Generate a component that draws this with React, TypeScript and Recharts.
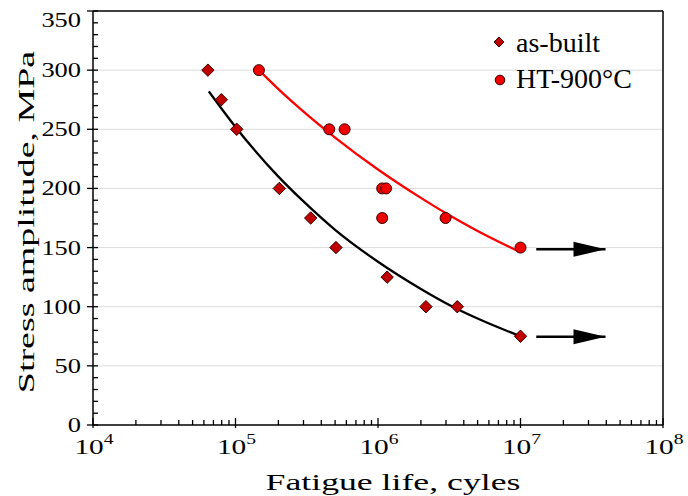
import React from "react";
import {
  ComposedChart,
  XAxis,
  YAxis,
  Scatter,
  Line,
  ReferenceLine,
  CartesianGrid,
} from "recharts";

// ---- data ----
const asBuiltN = [6.4e4, 7.95e4, 1.02e5, 2.03e5, 3.37e5, 5.07e5, 1.16e6, 2.17e6, 3.6e6, 1e7];
const asBuiltS = [300, 275, 250, 200, 175, 150, 125, 100, 100, 75];

const htN = [1.46e5, 4.55e5, 5.83e5, 1.07e6, 1.14e6, 1.07e6, 2.98e6, 1e7];
const htS = [300, 250, 250, 200, 200, 175, 175, 150];

const asBuiltFitN = [6.5e4, 1e5, 2e5, 3e5, 5e5, 1e6, 2e6, 3e6, 5e6, 1e7];
const asBuiltFitS = [282, 252, 210, 189, 165, 138, 115, 103, 90, 75];

const htFitN = [1.46e5, 2e5, 3e5, 5e5, 1e6, 2e6, 3e6, 5e6, 1e7];
const htFitS = [300, 284, 265, 243, 216, 192, 179, 164, 146];

const arrowN = [1.29e7, 3.95e7];
const arrowHtS = [148.5, 148.5];
const arrowAsBuiltS = [74.6, 74.6];

const xMajorTicks = [1e4, 1e5, 1e6, 1e7, 1e8];
const xMinorMultipliers = [2, 3, 4, 5, 6, 7, 8, 9];
const yMajorTicks = [0, 50, 100, 150, 200, 250, 300, 350];
const yMinorStep = 10;
const gridValues = [50, 100, 150, 200, 250, 300];

const seriesNames = ["as-built", "HT-900°C"];
const xTitle = "Fatigue life, cyles";
const yTitle = "Stress amplitude, MPa";

// ---- derived tables ----
const zip = (ns: number[], ss: number[]) => ns.map((n, i) => ({ n, s: ss[i] }));
const asBuiltData = zip(asBuiltN, asBuiltS);
const htData = zip(htN, htS);
const asBuiltFit = zip(asBuiltFitN, asBuiltFitS);
const htFit = zip(htFitN, htFitS);
const arrowHt = zip(arrowN, arrowHtS);
const arrowAsBuilt = zip(arrowN, arrowAsBuiltS);

const xTicks: number[] = [];
xMajorTicks.forEach((m, i) => {
  xTicks.push(m);
  if (i < xMajorTicks.length - 1) xMinorMultipliers.forEach((k) => xTicks.push(m * k));
});
const yTicks: number[] = [];
for (let v = 0; v <= 350; v += yMinorStep) yTicks.push(v);

const FONT = "Liberation Serif, Times New Roman, serif";
const DIAMOND_FILL = "#c00000";
const DIAMOND_STROKE = "#3a0000";
const CIRCLE_FILL = "#ee0000";
const CIRCLE_STROKE = "#3a0000";

const SText = ({ x, y, sx = 1, rotate = 0, anchor = "start", size, children }: any) => (
  <g transform={`translate(${x},${y}) rotate(${rotate}) scale(${sx},1)`}>
    <text x={0} y={0} textAnchor={anchor} fontSize={size} fontFamily={FONT} fill="#000">
      {children}
    </text>
  </g>
);

const XTick = (props: any) => {
  const { x, y, payload } = props;
  const v = payload.value;
  const major = xMajorTicks.some((m) => Math.abs(m - v) / m < 1e-6);
  if (!major) {
    return <line x1={x} x2={x} y1={y} y2={y - 5} stroke="#000" strokeWidth={1.3} />;
  }
  const exp = Math.round(Math.log10(v));
  return (
    <g>
      <line x1={x} x2={x} y1={y - 7} y2={y + 3} stroke="#000" strokeWidth={1.3} />
      <SText x={x + 1} y={y + 29} sx={1.4} anchor="middle" size={21}>
        10
        <tspan fontSize={14} dy={-10}>
          {exp}
        </tspan>
      </SText>
    </g>
  );
};

const YTick = (props: any) => {
  const { x, y, payload } = props;
  const v = payload.value;
  const major = yMajorTicks.includes(v);
  if (!major) {
    return <line x1={x} x2={x + 5} y1={y} y2={y} stroke="#000" strokeWidth={1.3} />;
  }
  const baseline = Math.max(y + 7, 27);
  return (
    <g>
      <line x1={x - 6} x2={x + 5} y1={y} y2={y} stroke="#000" strokeWidth={1.3} />
      <SText x={x - 12} y={baseline} sx={1.2} anchor="end" size={22}>
        {v}
      </SText>
    </g>
  );
};

const Diamond = (props: any) => {
  const { cx, cy } = props;
  const r = 6.2;
  return (
    <polygon
      points={`${cx},${cy - r} ${cx + r},${cy} ${cx},${cy + r} ${cx - r},${cy}`}
      fill={DIAMOND_FILL}
      stroke={DIAMOND_STROKE}
      strokeWidth={1}
    />
  );
};

const Circle = (props: any) => {
  const { cx, cy } = props;
  return <circle cx={cx} cy={cy} r={5.5} fill={CIRCLE_FILL} stroke={CIRCLE_STROKE} strokeWidth={1} />;
};

const ArrowHead = (props: any) => {
  const { cx, cy, index } = props;
  if (index !== 1) return <g key={`ah-${index}`} />;
  return (
    <polygon
      key={`ah-${index}`}
      points={`${cx},${cy} ${cx - 32},${cy - 7.5} ${cx - 32},${cy + 7.5}`}
      fill="#000"
    />
  );
};

export default function App() {
  return (
    <div style={{ position: "absolute", left: 0, top: 0, width: 688, height: 496, background: "#fff" }}>
      <ComposedChart width={688} height={496} margin={{ top: 11, right: 25, left: 0, bottom: 0 }}>
        <CartesianGrid
          vertical={false}
          horizontal={true}
          horizontalValues={gridValues}
          stroke="#dcdcdc"
          strokeWidth={1}
        />
        <XAxis
          dataKey="n"
          type="number"
          scale="log"
          domain={[1e4, 1e8]}
          allowDataOverflow
          ticks={xTicks}
          interval={0}
          tick={<XTick />}
          tickLine={false}
          tickSize={0}
          tickMargin={0}
          height={71}
          axisLine={{ stroke: "#000", strokeWidth: 1.5 }}
        />
        <YAxis
          dataKey="s"
          type="number"
          domain={[0, 350]}
          allowDataOverflow
          ticks={yTicks}
          interval={0}
          tick={<YTick />}
          tickLine={false}
          tickSize={0}
          tickMargin={0}
          width={93}
          axisLine={{ stroke: "#000", strokeWidth: 1.5 }}
        />
        <ReferenceLine y={350} stroke="#000" strokeWidth={1.5} />
        <ReferenceLine x={1e8} stroke="#000" strokeWidth={1.5} />
        <Line
          data={asBuiltFit}
          dataKey="s"
          type="monotone"
          stroke="#000"
          strokeWidth={2.3}
          dot={false}
          legendType="none"
          isAnimationActive={false}
        />
        <Line
          data={htFit}
          dataKey="s"
          type="monotone"
          stroke="#ff0000"
          strokeWidth={2.3}
          dot={false}
          legendType="none"
          isAnimationActive={false}
        />
        <Line
          data={arrowHt}
          dataKey="s"
          stroke="#000"
          strokeWidth={2.5}
          dot={ArrowHead}
          legendType="none"
          isAnimationActive={false}
        />
        <Line
          data={arrowAsBuilt}
          dataKey="s"
          stroke="#000"
          strokeWidth={2.5}
          dot={ArrowHead}
          legendType="none"
          isAnimationActive={false}
        />
        <Scatter name={seriesNames[0]} data={asBuiltData} shape={Diamond} isAnimationActive={false} />
        <Scatter name={seriesNames[1]} data={htData} shape={Circle} isAnimationActive={false} />
      </ComposedChart>
      <svg
        width={688}
        height={496}
        style={{ position: "absolute", left: 0, top: 0, pointerEvents: "none" }}
      >
        <SText x={34} y={222} rotate={-90} sx={1.65} anchor="middle" size={23}>
          {yTitle}
        </SText>
        <SText x={393} y={490} sx={1.52} anchor="middle" size={23.5}>
          {xTitle}
        </SText>
        <g transform="translate(488,25)">
          <polygon points="11,12 16,17 11,22 6,17" fill={DIAMOND_FILL} stroke={DIAMOND_STROKE} strokeWidth={1} />
          <text x={28} y={27} fontSize={28} fontFamily={FONT} fill="#000">
            {seriesNames[0]}
          </text>
          <circle cx={12} cy={55} r={4.8} fill={CIRCLE_FILL} stroke={CIRCLE_STROKE} strokeWidth={1} />
          <text x={28} y={63} fontSize={28} fontFamily={FONT} fill="#000">
            {seriesNames[1]}
          </text>
        </g>
      </svg>
    </div>
  );
}
